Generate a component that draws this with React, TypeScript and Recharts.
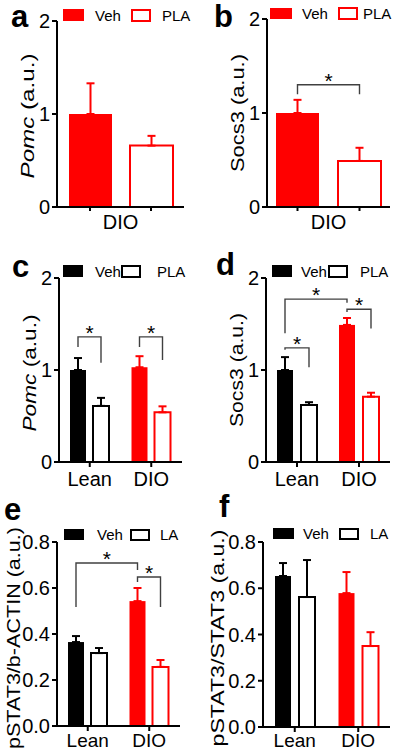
import React from 'react';
import { BarChart, Bar, XAxis, YAxis, ErrorBar, Cell } from 'recharts';

const FONT = '"Liberation Sans", Arial, Helvetica, sans-serif';
const RED = '#ff0000';
const BLACK = '#000000';
const BRACKET = '#404040';

// panels a, b: DIO mice only
const dioOnly = ['DIO'];
const pomcVehA = [1.0];
const pomcVehErrA = [0.33];
const pomcPlaA = [0.66];
const pomcPlaErrA = [0.105];

const socs3VehB = [1.0];
const socs3VehErrB = [0.14];
const socs3PlaB = [0.49];
const socs3PlaErrB = [0.14];

// panels c-f: Lean vs DIO
const leanDio = ['Lean', 'DIO'];

const pomcVehC = [1.0, 1.03];
const pomcVehErrC = [0.13, 0.12];
const pomcPlaC = [0.61, 0.54];
const pomcPlaErrC = [0.087, 0.065];

const socs3VehD = [1.0, 1.49];
const socs3VehErrD = [0.14, 0.075];
const socs3PlaD = [0.62, 0.71];
const socs3PlaErrD = [0.03, 0.043];

const pstatActinVehE = [0.365, 0.543];
const pstatActinVehErrE = [0.026, 0.057];
const pstatActinLaE = [0.317, 0.257];
const pstatActinLaErrE = [0.022, 0.03];

const pstatStatVehF = [0.653, 0.579];
const pstatStatVehErrF = [0.056, 0.091];
const pstatStatLaF = [0.562, 0.35];
const pstatStatLaErrF = [0.16, 0.06];

const mrnaTicks = [0, 1, 2];
const stat3Ticks = [0, 0.2, 0.4, 0.6, 0.8];

const plaSeries = ['Veh', 'PLA'];
const laSeries = ['Veh', 'LA'];

// significance brackets: [group, series] ends, heights in a.u.
type Bracket = { from: [number, number]; to: [number, number]; level: number; dropFrom: number; dropTo: number };
const bracketsB: Bracket[] = [{ from: [0, 0], to: [0, 1], level: 1.3, dropFrom: 1.2, dropTo: 1.2 }];
const bracketsC: Bracket[] = [
  { from: [0, 0], to: [0, 1], level: 1.36, dropFrom: 1.25, dropTo: 1.08 },
  { from: [1, 0], to: [1, 1], level: 1.36, dropFrom: 1.25, dropTo: 1.11 },
];
const bracketsD: Bracket[] = [
  { from: [0, 0], to: [1, 0], level: 1.77, dropFrom: 1.4, dropTo: 1.73 },
  { from: [0, 0], to: [0, 1], level: 1.24, dropFrom: 1.22, dropTo: 1.03 },
  { from: [1, 0], to: [1, 1], level: 1.66, dropFrom: 1.63, dropTo: 1.45 },
];
const bracketsE: Bracket[] = [
  { from: [0, 0], to: [1, 0], level: 0.709, dropFrom: 0.517, dropTo: 0.678 },
  { from: [1, 0], to: [1, 1], level: 0.648, dropFrom: 0.626, dropTo: 0.517 },
];

const toRows = (cats: string[], veh: number[], vehErr: number[], trt: number[], trtErr: number[]) =>
  cats.map((cat, i) => {
    const row: any = { cat, veh: veh[i], trt: trt[i] };
    cats.forEach((_, j) => {
      row[`vehErr${j}`] = i === j ? [0, vehErr[i]] : null;
      row[`trtErr${j}`] = i === j ? [0, trtErr[i]] : null;
    });
    return row;
  });

type PanelCfg = {
  box: { left: number; top: number; width: number; height: number };
  plot: { left: number; top: number; right: number; bottom: number };
  cats: string[];
  colors: string[];
  veh: number[];
  vehErr: number[];
  trt: number[];
  trtErr: number[];
  yMax: number;
  yTicks: number[];
  decimals: number;
  barSize: number;
  barGap: number;
  cap: number;
  pairTicks: boolean;
  xFont: number;
  xMargin: number;
  brackets: Bracket[];
};

const PairTick = (props: any) => {
  const { x, y, payload, half } = props;
  const axisY = y - 8;
  return (
    <g>
      <line x1={x - half} x2={x - half} y1={axisY} y2={axisY + 4} stroke={BLACK} strokeWidth={2} />
      <line x1={x + half} x2={x + half} y1={axisY} y2={axisY + 4} stroke={BLACK} strokeWidth={2} />
      <text x={x} y={y} dy="0.71em" textAnchor="middle" fontSize={20} fill={BLACK}>
        {payload.value}
      </text>
    </g>
  );
};

const Panel = ({ cfg }: { cfg: PanelCfg }) => {
  const { box, plot, cats, colors, veh, barSize, barGap } = cfg;
  const data = toRows(cats, veh, cfg.vehErr, cfg.trt, cfg.trtErr);
  const band = (plot.right - plot.left) / cats.length;

  const vehShape = (p: any) => {
    const { x, y, width, height, index, fill } = p;
    const v = veh[index];
    const k = height / v;
    const base = y + height;
    const toY = (val: number) => base - val * k;
    const cx = (g: number, s: number) => x + width / 2 + (g - index) * band + s * (width + barGap);
    const mine = cfg.brackets.filter((b) => b.from[0] === index);
    return (
      <g>
        <rect x={x} y={y} width={width} height={height} fill={fill} />
        {mine.map((b, j) => {
          const x1 = cx(b.from[0], b.from[1]);
          const x2 = cx(b.to[0], b.to[1]);
          const yl = toY(b.level);
          return (
            <g key={j}>
              <polyline
                points={`${x1},${toY(b.dropFrom)} ${x1},${yl} ${x2},${yl} ${x2},${toY(b.dropTo)}`}
                fill="none"
                stroke={BRACKET}
                strokeWidth={1.4}
              />
              <text x={(x1 + x2) / 2} y={yl + 3} textAnchor="middle" fontSize={21} fill={BLACK}>
                *
              </text>
            </g>
          );
        })}
      </g>
    );
  };

  return (
    <div style={{ position: 'absolute', left: box.left, top: box.top }}>
      <BarChart
        width={box.width}
        height={box.height}
        data={data}
        margin={{ top: plot.top - box.top, right: box.left + box.width - plot.right, bottom: 0, left: 0 }}
        barSize={barSize}
        barGap={barGap}
        style={{ fontFamily: FONT }}
      >
        <XAxis
          dataKey="cat"
          height={box.top + box.height - plot.bottom}
          axisLine={{ stroke: BLACK, strokeWidth: 2 }}
          tickLine={cfg.pairTicks ? false : { stroke: BLACK, strokeWidth: 2 }}
          tickSize={cfg.pairTicks ? 4 : 5}
          tickMargin={cfg.xMargin}
          interval={0}
          tick={cfg.pairTicks ? <PairTick half={(barSize + barGap) / 2} /> : { fontSize: cfg.xFont, fill: BLACK }}
        />
        <YAxis
          width={plot.left - box.left}
          domain={[0, cfg.yMax]}
          ticks={cfg.yTicks}
          interval={0}
          axisLine={{ stroke: BLACK, strokeWidth: 2 }}
          tickLine={{ stroke: BLACK, strokeWidth: 2 }}
          tickSize={5}
          tickMargin={2}
          tick={{ fontSize: 20, fill: BLACK }}
          tickFormatter={(v: number) => v.toFixed(cfg.decimals)}
        />
        <Bar dataKey="veh" isAnimationActive={false} shape={vehShape}>
          {cats.map((c, i) => (
            <Cell key={c} fill={colors[i]} />
          ))}
          {cats.map((c, i) => (
            <ErrorBar
              key={`ve${c}`}
              dataKey={`vehErr${i}`}
              direction="y"
              width={cfg.cap}
              stroke={colors[i]}
              strokeWidth={2}
              isAnimationActive={false}
            />
          ))}
        </Bar>
        <Bar dataKey="trt" isAnimationActive={false} fill="#ffffff" strokeWidth={2}>
          {cats.map((c, i) => (
            <Cell key={c} fill="#ffffff" stroke={colors[i]} strokeWidth={2} />
          ))}
          {cats.map((c, i) => (
            <ErrorBar
              key={`te${c}`}
              dataKey={`trtErr${i}`}
              direction="y"
              width={cfg.cap}
              stroke={colors[i]}
              strokeWidth={2}
              isAnimationActive={false}
            />
          ))}
        </Bar>
      </BarChart>
    </div>
  );
};

const panels: PanelCfg[] = [
  {
    box: { left: 0, top: 0, width: 200, height: 250 },
    plot: { left: 57, top: 21, right: 184, bottom: 207 },
    cats: dioOnly, colors: [RED],
    veh: pomcVehA, vehErr: pomcVehErrA, trt: pomcPlaA, trtErr: pomcPlaErrA,
    yMax: 2, yTicks: mrnaTicks, decimals: 0, barSize: 43, barGap: 18, cap: 4, pairTicks: true,
    xFont: 20, xMargin: 4, brackets: [],
  },
  {
    box: { left: 200, top: 0, width: 200, height: 250 },
    plot: { left: 267, top: 19, right: 390, bottom: 207 },
    cats: dioOnly, colors: [RED],
    veh: socs3VehB, vehErr: socs3VehErrB, trt: socs3PlaB, trtErr: socs3PlaErrB,
    yMax: 2, yTicks: mrnaTicks, decimals: 0, barSize: 43, barGap: 19, cap: 4, pairTicks: true,
    xFont: 20, xMargin: 4, brackets: bracketsB,
  },
  {
    box: { left: 0, top: 250, width: 200, height: 250 },
    plot: { left: 59, top: 278, right: 182, bottom: 462 },
    cats: leanDio, colors: [BLACK, RED],
    veh: pomcVehC, vehErr: pomcVehErrC, trt: pomcPlaC, trtErr: pomcPlaErrC,
    yMax: 2, yTicks: mrnaTicks, decimals: 0, barSize: 16, barGap: 7, cap: 4, pairTicks: false,
    xFont: 20, xMargin: 5, brackets: bracketsC,
  },
  {
    box: { left: 200, top: 250, width: 200, height: 250 },
    plot: { left: 266, top: 278, right: 390, bottom: 462 },
    cats: leanDio, colors: [BLACK, RED],
    veh: socs3VehD, vehErr: socs3VehErrD, trt: socs3PlaD, trtErr: socs3PlaErrD,
    yMax: 2, yTicks: mrnaTicks, decimals: 0, barSize: 16, barGap: 8, cap: 4, pairTicks: false,
    xFont: 20, xMargin: 5, brackets: bracketsD,
  },
  {
    box: { left: 0, top: 500, width: 200, height: 252 },
    plot: { left: 57, top: 542, right: 180, bottom: 726 },
    cats: leanDio, colors: [BLACK, RED],
    veh: pstatActinVehE, vehErr: pstatActinVehErrE, trt: pstatActinLaE, trtErr: pstatActinLaErrE,
    yMax: 0.8, yTicks: stat3Ticks, decimals: 1, barSize: 16, barGap: 7, cap: 4, pairTicks: false,
    xFont: 19, xMargin: 3, brackets: bracketsE,
  },
  {
    box: { left: 200, top: 500, width: 200, height: 252 },
    plot: { left: 263, top: 542, right: 390, bottom: 727 },
    cats: leanDio, colors: [BLACK, RED],
    veh: pstatStatVehF, vehErr: pstatStatVehErrF, trt: pstatStatLaF, trtErr: pstatStatLaErrF,
    yMax: 0.8, yTicks: stat3Ticks, decimals: 1, barSize: 16, barGap: 8, cap: 4, pairTicks: false,
    xFont: 19, xMargin: 2, brackets: [],
  },
];

const letters = [
  { t: 'a', x: 11, y: 27 },
  { t: 'b', x: 214, y: 27 },
  { t: 'c', x: 12, y: 277 },
  { t: 'd', x: 216, y: 275 },
  { t: 'e', x: 4, y: 520 },
  { t: 'f', x: 219, y: 517 },
];

const yLabels = [
  { gene: 'Pomc', italic: true, rest: ' (a.u.)', x: 34, cy: 116, len: 125 },
  { gene: 'Socs3', italic: false, rest: ' (a.u.)', x: 244, cy: 113, len: 118 },
  { gene: 'Pomc', italic: true, rest: ' (a.u.)', x: 36, cy: 373, len: 117 },
  { gene: 'Socs3', italic: false, rest: ' (a.u.)', x: 243, cy: 370, len: 114 },
  { gene: 'pSTAT3/b-ACTIN', italic: false, rest: ' (a.u.)', x: 20, cy: 638, len: 222 },
  { gene: 'pSTAT3/STAT3', italic: false, rest: ' (a.u.)', x: 224, cy: 638, len: 217 },
];

const legends = [
  { names: plaSeries, color: RED, boxes: [[63, 9, 21, 12], [132, 10, 18, 11]], texts: [95, 162], base: 21 },
  { names: plaSeries, color: RED, boxes: [[270, 8, 22, 11], [339, 8, 18, 11]], texts: [302, 363], base: 19 },
  { names: plaSeries, color: BLACK, boxes: [[63, 265, 20, 12], [122, 266, 18, 11]], texts: [95, 157], base: 277 },
  { names: plaSeries, color: BLACK, boxes: [[272, 265, 20, 12], [329, 266, 18, 11]], texts: [301, 360], base: 277 },
  { names: laSeries, color: BLACK, boxes: [[64, 529, 20, 11], [131, 530, 18, 10]], texts: [97, 160], base: 540 },
  { names: laSeries, color: BLACK, boxes: [[273, 528, 21, 11], [340, 529, 18, 10]], texts: [303, 370], base: 539 },
];

const Overlay = () => (
  <svg
    width={400}
    height={752}
    style={{ position: 'absolute', left: 0, top: 0, pointerEvents: 'none', fontFamily: FONT }}
  >
    {letters.map((l) => (
      <text key={l.t} x={l.x} y={l.y} fontSize={31} fontWeight="bold" fill={BLACK}>
        {l.t}
      </text>
    ))}
    {yLabels.map((l, i) => (
      <text
        key={i}
        x={l.x - l.len / 2}
        y={l.cy}
        transform={`rotate(-90 ${l.x} ${l.cy})`}
        fontSize={19}
        fill={BLACK}
        textLength={l.len}
        lengthAdjust="spacingAndGlyphs"
      >
        <tspan fontStyle={l.italic ? 'italic' : 'normal'}>{l.gene}</tspan>
        <tspan>{l.rest}</tspan>
      </text>
    ))}
    {legends.map((lg, i) => (
      <g key={i}>
        <rect x={lg.boxes[0][0]} y={lg.boxes[0][1]} width={lg.boxes[0][2]} height={lg.boxes[0][3]} fill={lg.color} />
        <rect
          x={lg.boxes[1][0]}
          y={lg.boxes[1][1]}
          width={lg.boxes[1][2]}
          height={lg.boxes[1][3]}
          fill="#ffffff"
          stroke={lg.color}
          strokeWidth={2}
        />
        <text x={lg.texts[0]} y={lg.base} fontSize={15} fill={BLACK}>
          {lg.names[0]}
        </text>
        <text x={lg.texts[1]} y={lg.base} fontSize={15} fill={BLACK}>
          {lg.names[1]}
        </text>
      </g>
    ))}
  </svg>
);

const App = () => (
  <div style={{ position: 'absolute', left: 0, top: 0, width: 400, height: 752, background: '#ffffff', fontFamily: FONT }}>
    {panels.map((p, i) => (
      <Panel key={i} cfg={p} />
    ))}
    <Overlay />
  </div>
);

export default App;
